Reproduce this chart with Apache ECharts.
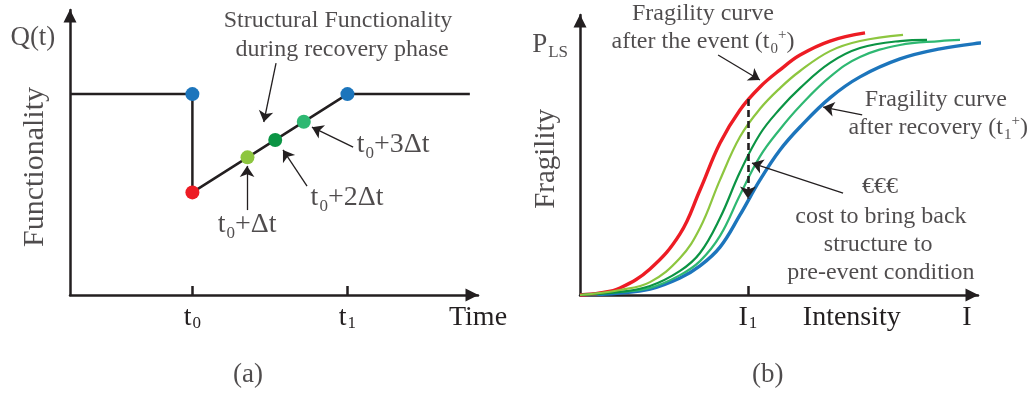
<!DOCTYPE html>
<html><head><meta charset="utf-8">
<script src="https://cdn.jsdelivr.net/npm/echarts@6/dist/echarts.min.js"></script>
<style>html,body{margin:0;padding:0;background:#fff}#c{width:1032px;height:394px}</style>
</head><body><div id="c"></div>
<script>
// ---------- Panel (a): functionality vs time ----------
const timeTicks = [3, 6.8];                       // t0, t1
const timeTickLabels = ['t{sub|0}', 't{sub|1}'];
const timeAxisTitleAt = 10;
const functionalityX = [0, 3, 3, 6.8, 9.8];
const functionalityY = [7.05, 7.05, 3.6, 7.05, 7.05];
const stateX = [3, 3, 4.35, 5.03, 5.73, 6.8];
const stateY = [7.05, 3.6, 4.83, 5.44, 6.08, 7.05];
const stateColors = ['#1c75bc', '#ed1c24', '#8dc63f', '#0b9444', '#2eb872', '#1c75bc'];

// ---------- Panel (b): fragility curves ----------
const intensityTicks = [4.22];
const intensityLabelsAt = [4.22, 6.83, 9.72];
const intensityLabels = ['I{sub|1}', 'Intensity', 'I'];
const redX   = [0, 0.503, 1.005, 1.759, 2.513, 3.015, 3.518, 4.020, 4.523, 5.025, 5.528, 6.281, 7.161];
const redY   = [0, 0.007, 0.025, 0.093, 0.218, 0.375, 0.543, 0.661, 0.743, 0.804, 0.857, 0.907, 0.936];
const limeX  = [0, 1.005, 1.759, 2.513, 3.015, 3.518, 4.020, 4.523, 5.025, 5.528, 6.281, 7.035, 8.116];
const limeY  = [0, 0.018, 0.046, 0.132, 0.239, 0.411, 0.565, 0.665, 0.739, 0.800, 0.871, 0.907, 0.929];
const dkGreenX = [0, 1.005, 1.759, 2.513, 3.015, 3.518, 4.020, 4.523, 5.025, 5.528, 6.281, 7.035, 8.040, 8.719];
const dkGreenY = [0, 0.011, 0.032, 0.086, 0.150, 0.275, 0.439, 0.575, 0.665, 0.739, 0.829, 0.882, 0.907, 0.911];
const mdGreenX = [0, 1.005, 1.759, 2.513, 3.015, 3.518, 4.020, 4.523, 5.025, 5.528, 6.281, 7.035, 8.040, 9.045, 9.548];
const mdGreenY = [0, 0.011, 0.025, 0.071, 0.121, 0.211, 0.357, 0.495, 0.592, 0.675, 0.779, 0.850, 0.893, 0.907, 0.911];
const blueX  = [0, 1.005, 1.759, 2.513, 3.015, 3.518, 4.020, 4.523, 5.025, 5.528, 6.281, 7.035, 8.040, 9.045, 10.05, 10.477];
const blueY  = [0, 0.007, 0.021, 0.061, 0.104, 0.171, 0.286, 0.411, 0.518, 0.600, 0.704, 0.779, 0.843, 0.879, 0.900, 0.904];
const repairDrop = [[4.22, 0.70], [4.22, 0.345]];   // dashed arrow at I1

const INK = '#231f20';
const FONT = '"Liberation Serif", "DejaVu Serif", serif';
const zip = (xs, ys) => xs.map((x, i) => [x, ys[i]]);

const rich = (size) => ({
  m: {fontSize: size, fontFamily: FONT, color: INK},
  sub: {fontSize: Math.round(size * 0.62), fontFamily: FONT, color: INK, verticalAlign: 'bottom', padding: [0, 0, 0, 1]},
  sup: {fontSize: Math.round(size * 0.62), fontFamily: FONT, color: INK, verticalAlign: 'top'}
});

function txt(x, y, text, size, extra) {
  return Object.assign({value: [x, y], label: Object.assign({show: true, position: 'inside', formatter: text,
    fontSize: size, fontFamily: FONT, color: INK, lineHeight: size * 1.2, rich: rich(size)}, extra || {})});
}
function textSeries(gi, items) {
  return {type: 'scatter', xAxisIndex: gi, yAxisIndex: gi, clip: false, silent: true, symbolSize: 1,
    itemStyle: {color: 'rgba(0,0,0,0)'}, data: items, z: 20};
}
function arrowSeries(gi, segs, dashed) {
  return {type: 'lines', coordinateSystem: 'cartesian2d', xAxisIndex: gi, yAxisIndex: gi, clip: false, silent: true,
    symbol: ['none', 'arrow'], symbolSize: dashed ? 12 : 11,
    lineStyle: {color: INK, width: dashed ? 2.6 : 1.3, type: dashed ? [7, 4] : 'solid', opacity: 1, curveness: 0},
    data: segs.map(s => ({coords: s})), z: 15};
}
function curve(xs, ys, color, width) {
  return {type: 'line', xAxisIndex: 1, yAxisIndex: 1, data: zip(xs, ys), symbol: 'none', smooth: 0.4,
    clip: false, silent: true, lineStyle: {color: color, width: width}, z: width > 3 ? 3 : 4};
}
const axisLine = {show: true, onZero: false, symbol: ['none', 'triangle'], symbolSize: [13, 13], symbolOffset: [0, -6],
  lineStyle: {color: INK, width: 2.5}};

const chart = echarts.init(document.getElementById('c'), null, {renderer: 'canvas'});
chart.setOption({
  animation: false,
  backgroundColor: '#fff',
  grid: [
    {left: 70, top: 10, width: 408, height: 285},
    {left: 580, top: 15, width: 398, height: 280}
  ],
  xAxis: [
    {gridIndex: 0, type: 'value', min: 0, max: 10, axisLine: axisLine, splitLine: {show: false},
      axisTick: {show: true, inside: true, length: 9, customValues: timeTicks, lineStyle: {color: INK, width: 2.5}},
      axisLabel: {show: true, customValues: timeTicks.concat([timeAxisTitleAt]), margin: 9, color: INK, fontFamily: FONT, fontSize: 28,
        formatter: v => { const i = timeTicks.indexOf(v); return i >= 0 ? timeTickLabels[i] : 'Time'; }, rich: rich(28)}},
    {gridIndex: 1, type: 'value', min: 0, max: 10, axisLine: axisLine, splitLine: {show: false},
      axisTick: {show: true, inside: true, length: 9, customValues: intensityTicks, lineStyle: {color: INK, width: 2.5}},
      axisLabel: {show: true, customValues: intensityLabelsAt, margin: 9, color: INK, fontFamily: FONT, fontSize: 28,
        formatter: v => intensityLabels[intensityLabelsAt.indexOf(v)], rich: rich(28)}}
  ],
  yAxis: [
    {gridIndex: 0, type: 'value', min: 0, max: 10, axisLine: axisLine, splitLine: {show: false}, axisTick: {show: false}, axisLabel: {show: false}},
    {gridIndex: 1, type: 'value', min: 0, max: 1, axisLine: axisLine, splitLine: {show: false}, axisTick: {show: false}, axisLabel: {show: false}}
  ],
  series: [
    {type: 'line', xAxisIndex: 0, yAxisIndex: 0, data: zip(functionalityX, functionalityY), symbol: 'none',
      lineStyle: {color: INK, width: 2.5}, silent: true, z: 5},
    {type: 'scatter', xAxisIndex: 0, yAxisIndex: 0, symbolSize: 14, silent: true, z: 10,
      data: zip(stateX, stateY).map((p, i) => ({value: p, itemStyle: {color: stateColors[i], opacity: 1}}))},
    arrowSeries(0, [
      [[5.05, 8.14], [4.75, 6.07]],
      [[4.34, 2.98], [4.34, 4.53]],
      [[5.81, 3.82], [5.22, 5.09]],
      [[6.94, 5.19], [5.93, 5.89]]
    ], false),
    textSeries(0, [
      txt(-0.91, 9.02, 'Q(t)', 27),
      txt(-0.86, 4.49, 'Functionality', 30, {rotate: 90}),
      txt(6.57, 9.61, 'Structural Functionality', 24),
      txt(6.67, 8.60, 'during recovery phase', 24),
      txt(4.34, 2.46, 't{sub|0}+Δt', 28),
      txt(6.79, 3.40, 't{sub|0}+2Δt', 28),
      txt(7.92, 5.26, 't{sub|0}+3Δt', 28),
      txt(4.36, -2.81, '(a)', 27)
    ]),
    // fragility curves
    curve(mdGreenX, mdGreenY, '#2eb872', 2.2),
    curve(dkGreenX, dkGreenY, '#0b9444', 2.2),
    curve(limeX, limeY, '#8dc63f', 2.2),
    curve(blueX, blueY, '#1c75bc', 3.4),
    curve(redX, redY, '#ed1c24', 3.4),
    arrowSeries(1, [repairDrop], true),
    arrowSeries(1, [
      [[3.47, 0.857], [4.52, 0.768]],
      [[7.09, 0.643], [6.11, 0.671]],
      [[6.61, 0.364], [4.32, 0.471]]
    ], false),
    textSeries(1, [
      txt(-0.75, 0.893, 'P{sub|LS}', 27),
      txt(-0.85, 0.486, 'Fragility', 29, {rotate: 90}),
      txt(3.09, 1.004, 'Fragility curve', 24),
      txt(3.09, 0.904, 'after the event (t{sub|0}{sup|+})', 24),
      txt(8.94, 0.696, 'Fragility curve', 24),
      txt(9.00, 0.596, 'after recovery (t{sub|1}{sup|+})', 24),
      txt(7.54, 0.386, '€€€', 24),
      txt(7.56, 0.279, 'cost to bring back', 24),
      txt(7.49, 0.179, 'structure to', 24),
      txt(7.56, 0.079, 'pre-event condition', 24),
      txt(4.72, -0.286, '(b)', 27)
    ])
  ]
});
</script></body></html>
